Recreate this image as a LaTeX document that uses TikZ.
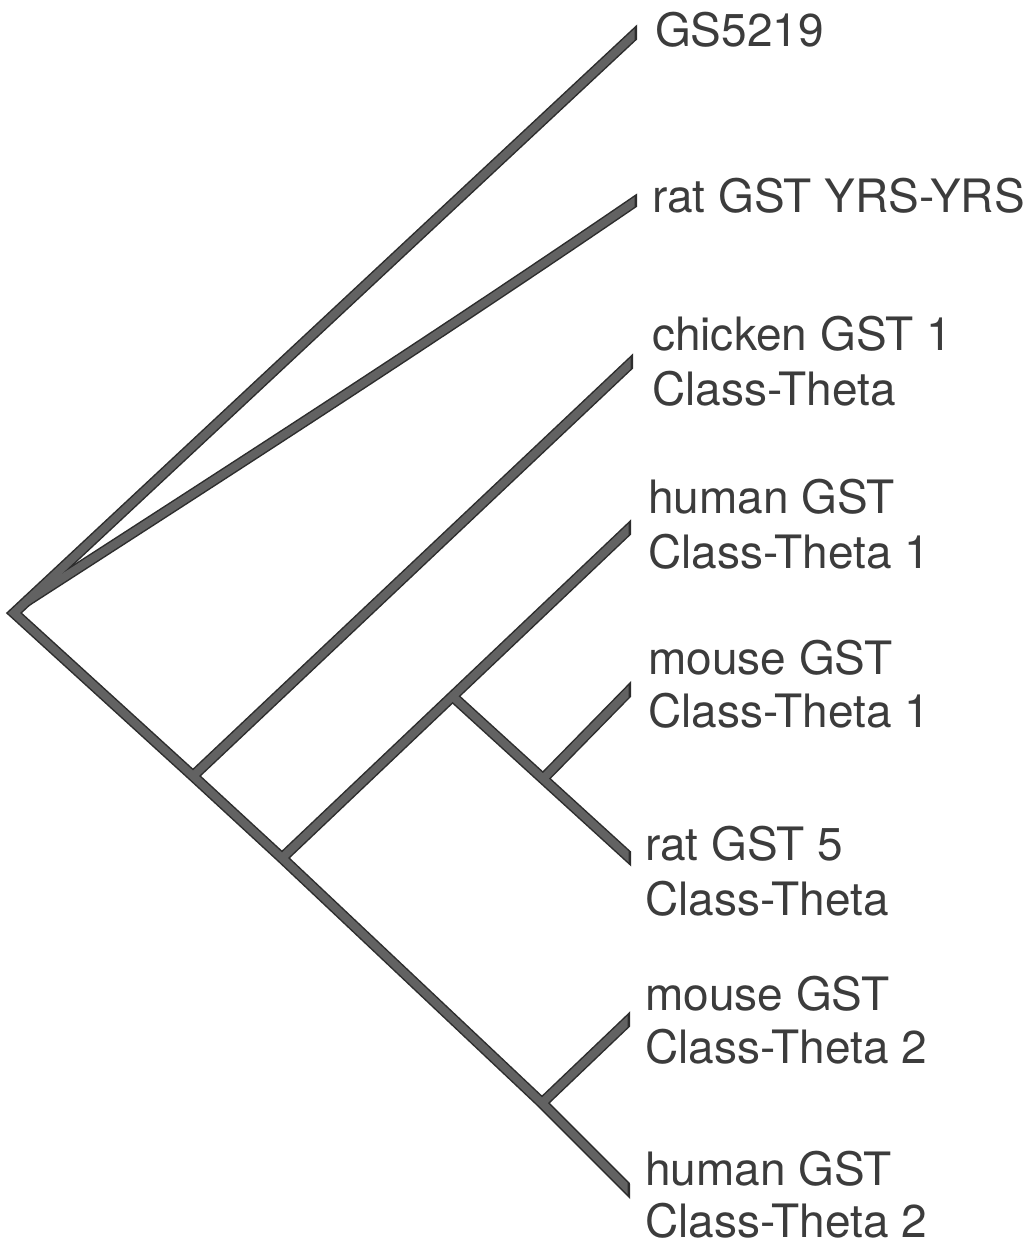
\documentclass[tikz,border=0pt]{standalone}
\usepackage{fontspec}
\setmainfont{TeX Gyre Heros}
\usetikzlibrary{calc}
\definecolor{edgec}{RGB}{45,45,45}
\definecolor{fillc}{RGB}{98,98,98}
\definecolor{textc}{RGB}{60,60,60}
\newcommand\tipline[4]{%
  \begin{scope}
    \clip (O) rectangle ($(#2|-Bot)+(#4,0)$);
    \draw[#3] (#1) -- ($(#1)!1.1!(#2)$);
  \end{scope}}
\newcommand\drawtree[2]{%
  \begin{scope}
    \clip (O) -- ($(GS|-O)+(#2,0)$) -- ($(GS|-R)+(#2,0)$) -- ($(H2|-R)+(#2,0)$)
          -- ($(H2|-Bot)+(#2,0)$) -- (Bot) -- cycle;
    \draw[#1] ($(R)!1.05!(GS)$) -- (R) -- (A) -- (B) -- (C) -- ($(C)!1.3!(H2)$);
  \end{scope}
  \begin{scope}
    \clip (O) rectangle ($(RY|-Bot)+(#2,0)$);
    \draw[#1] (J) .. controls (c1) and (c2) .. (RYx);
  \end{scope}
  \tipline{A}{CH}{#1}{#2}
  \tipline{B}{H1}{#1}{#2}
  \tipline{D}{R5}{#1}{#2}
  \tipline{E}{M1}{#1}{#2}
  \tipline{C}{M2}{#1}{#2}}
\begin{document}
\begin{tikzpicture}[x=1pt,y=-1pt,
  lab/.style={anchor=base west,inner sep=0pt,font=\fontsize{46}{55}\selectfont,text=textc},
  outer/.style={draw=edgec,line width=11pt,line join=miter,line cap=butt},
  inner/.style={draw=fillc,line width=8pt,line join=miter,line cap=butt}]
\useasboundingbox[fill=white] (0,0) rectangle (1030,1248);
\coordinate (O) at (0,0);
\coordinate (Bot) at (0,1248);
% tree points
\coordinate (R) at (14,613);
\coordinate (GS) at (636,33);
\coordinate (RY) at (636,200);
\coordinate (RYx) at (646,194);
\coordinate (c1) at (230,470);
\coordinate (c2) at (440,335);
\coordinate (CH) at (632,362);
\coordinate (H1) at (630,528);
\coordinate (M1) at (630,690);
\coordinate (R5) at (630,858);
\coordinate (M2) at (629,1020);
\coordinate (H2) at (629,1190);
\coordinate (A) at (193,776);
\coordinate (B) at (282,858);
\coordinate (C) at (542,1103);
\coordinate (D) at ($(B)!0.49!(H1)$);
\coordinate (E) at ($(D)!0.51!(R5)$);
\coordinate (J) at ($(R)!0.02!(GS)$);
% branches: dark edge then lighter body
\drawtree{outer}{1}
\drawtree{inner}{-1.5}
% labels
\node[lab] (lgs) at (655,46) {GS5219};
\node[lab] (lry) at (652,212) {rat GST YRS-YRS};
\node[lab] (lch1) at (652,350) {chicken GST 1};
\node[lab] (lch2) at (652,405) {Class-Theta};
\node[lab] (lh11) at (648,513) {human GST};
\node[lab] (lh12) at (648,568) {Class-Theta 1};
\node[lab] (lm11) at (648,674) {mouse GST};
\node[lab] (lm12) at (648,727) {Class-Theta 1};
\node[lab] (lr51) at (645,860) {rat GST 5};
\node[lab] (lr52) at (645,915) {Class-Theta};
\node[lab] (lm21) at (645,1010) {mouse GST};
\node[lab] (lm22) at (645,1063) {Class-Theta 2};
\node[lab] (lh21) at (645,1185) {human GST};
\node[lab] (lh22) at (645,1237) {Class-Theta 2};
\end{tikzpicture}
\end{document}
